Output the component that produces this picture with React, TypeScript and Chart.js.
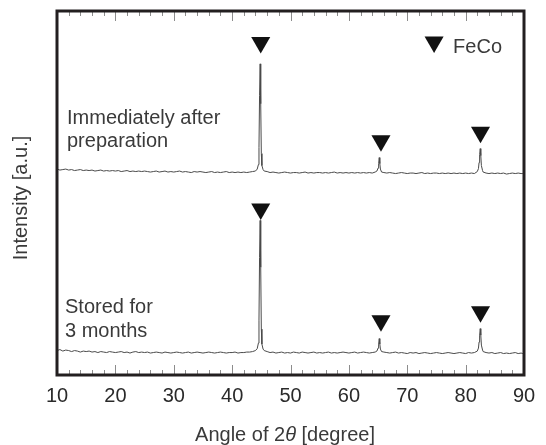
import React, { useEffect, useRef } from "react";
import { Chart, registerables } from "chart.js";

Chart.register(...registerables);

// 2θ sample positions (degree)
const angles = [
  10, 10.5, 11, 11.5, 12, 12.5, 13, 13.5, 14, 14.5,
  15, 15.5, 16, 16.5, 17, 17.5, 18, 18.5, 19, 19.5,
  20, 20.5, 21, 21.5, 22, 22.5, 23, 23.5, 24, 24.5,
  25, 25.5, 26, 26.5, 27, 27.5, 28, 28.5, 29, 29.5,
  30, 30.5, 31, 31.5, 32, 32.5, 33, 33.5, 34, 34.5,
  35, 35.5, 36, 36.5, 37, 37.5, 38, 38.5, 39, 39.5,
  40, 40.5, 41, 41.5, 42, 42.5, 43, 43.5,
  44.0, 44.3, 44.5, 44.6, 44.7, 44.8, 44.9, 45.0, 45.1, 45.3, 45.5,
  46, 46.5, 47, 47.5, 48, 48.5, 49, 49.5, 50, 50.5,
  51, 51.5, 52, 52.5, 53, 53.5, 54, 54.5, 55, 55.5,
  56, 56.5, 57, 57.5, 58, 58.5, 59, 59.5, 60, 60.5,
  61, 61.5, 62, 62.5, 63, 63.5, 64, 64.5,
  64.8, 65.0, 65.1, 65.2, 65.3, 65.4, 65.6,
  66, 66.5, 67, 67.5, 68, 68.5, 69, 69.5, 70, 70.5,
  71, 71.5, 72, 72.5, 73, 73.5, 74, 74.5, 75, 75.5,
  76, 76.5, 77, 77.5, 78, 78.5, 79, 79.5, 80, 80.5,
  81, 81.5, 82,
  82.2, 82.3, 82.4, 82.5, 82.6, 82.7, 82.9,
  83, 83.5, 84, 84.5, 85, 85.5, 86, 86.5, 87, 87.5, 88, 88.5, 89, 89.5, 89.8,
];

// Immediately after preparation (a.u., before vertical offset)
const freshIntensity = [
  26.5, 25.5, 26, 26.5, 25.5, 26, 25, 25.5, 26, 25,
  25.5, 25, 25.5, 24.5, 25, 25.5, 24.5, 25, 24.5, 25,
  24.5, 25, 24, 24.5, 25, 24, 24.5, 24, 24.5, 24,
  24.5, 24, 23.5, 24, 24.5, 23.5, 24, 24.5, 23.5, 24,
  23.5, 24, 24.5, 23.5, 24, 23.5, 23, 24, 23.5, 24,
  23.5, 23, 23.5, 24, 23, 23.5, 23, 23.5, 24, 23,
  23.5, 23, 23.5, 23, 23.5, 23, 23.5, 24,
  24.5, 26.5, 31, 48, 100, 132, 92, 42, 30, 26, 24.5,
  24, 23, 23.5, 23, 22.5, 23, 23.5, 23, 22.5, 23,
  23, 22.5, 23, 23.5, 22.5, 23, 22.5, 23, 23, 22.5,
  23, 22.5, 23, 23.5, 22.5, 23, 22.5, 23, 22.5, 23,
  22.5, 23, 22.5, 23, 22.5, 23, 22.5, 23.5,
  24.5, 27.5, 32, 38, 32, 26.5, 23.5,
  23, 22.5, 23, 22.5, 22, 22.5, 23, 22.5, 22, 22.5,
  22.5, 22, 22.5, 23, 22, 22.5, 22, 22.5, 22.5, 22,
  22.5, 22, 22.5, 22, 22.5, 22, 22.5, 22, 22.5, 22,
  22.5, 22, 24,
  27, 33, 41, 47, 40, 30, 25,
  23.5, 22.5, 22, 22.5, 22, 22.5, 22, 22.5, 21.5, 22, 22.5, 22, 22.5, 22, 22,
];

// Stored for 3 months (a.u.)
const storedIntensity = [
  24.5, 25.5, 24, 25, 24.5, 23.5, 24.5, 24, 23, 24,
  23.5, 24, 23, 23.5, 22.5, 23.5, 23, 22.5, 23.5, 23,
  22.5, 23, 23.5, 22.5, 23, 22, 23, 23.5, 22.5, 23,
  22.5, 23, 22, 22.5, 23, 22.5, 22, 23, 22.5, 22,
  22.5, 23, 22.5, 22, 22.5, 23, 22, 22.5, 23, 22.5,
  22, 22.5, 23, 22.5, 22, 22.5, 23, 22.5, 22, 22.5,
  22.5, 23, 22, 22.5, 22.5, 23, 23, 23.5,
  24.5, 26.5, 32, 55, 118, 155, 108, 46, 31, 26, 24.5,
  23.5, 22.5, 23, 22, 22.5, 23, 22, 22.5, 22, 23,
  22.5, 22, 23, 22.5, 22, 22.5, 23, 22, 22.5, 22,
  22.5, 23, 22, 22.5, 22, 22.5, 23, 22.5, 22, 22.5,
  23, 22, 22.5, 23, 22.5, 22, 22.5, 23,
  24, 27, 31, 36.5, 31, 26, 23.5,
  23, 22.5, 22, 22.5, 23, 22, 22.5, 22, 21.5, 22.5,
  22, 22.5, 21.5, 22, 22.5, 22, 21.5, 22, 22.5, 22,
  21.5, 22, 22.5, 22, 21.5, 22, 22.5, 22, 21.5, 22.5,
  22, 22.5, 24,
  27, 33, 40, 46.5, 40, 30, 25,
  23.5, 22.5, 22, 22.5, 21.5, 22, 22.5, 21.5, 22, 21.5, 22, 22.5, 21.5, 22, 21.5,
];

const freshOffset = 180;
const yMax = 365;

// FeCo reflection markers
const markerAngles = [44.9, 65.5, 82.55];
const freshMarkerLevels = [153.5, 55, 63.5];
const storedMarkerLevels = [166.5, 54.5, 63.5];
const legendMarkerAngle = 74.6;
const legendMarkerLevel = 334;
const legendText = "FeCo";

const xTickValues = [10, 20, 30, 40, 50, 60, 70, 80, 90];
const minorTickStep = 2;
const freshLabel = ["Immediately after", "preparation"];
const storedLabel = ["Stored for", "3 months"];

const FONT = '"Liberation Sans", Arial, Helvetica, sans-serif';
const TEXT_COLOR = "#3a3a3a";

const decorPlugin = {
  id: "decor",
  afterDatasetsDraw(chart: any) {
    const { ctx, chartArea: a, scales } = chart;
    const x = scales.x;
    ctx.save();
    // inward ticks on top and bottom
    ctx.strokeStyle = "#8c8c8c";
    ctx.lineWidth = 1;
    for (let v = x.min; v <= x.max + 1e-6; v += minorTickStep) {
      const px = Math.round(x.getPixelForValue(v)) + 0.5;
      const major = xTickValues.includes(Math.round(v));
      const len = major ? 10 : 5;
      ctx.beginPath();
      ctx.moveTo(px, a.bottom);
      ctx.lineTo(px, a.bottom - len);
      ctx.moveTo(px, a.top);
      ctx.lineTo(px, a.top + len);
      ctx.stroke();
    }
    // frame
    ctx.strokeStyle = "#231f20";
    ctx.lineWidth = 3;
    ctx.strokeRect(a.left, a.top, a.right - a.left, a.bottom - a.top);

    // annotations
    ctx.fillStyle = TEXT_COLOR;
    ctx.font = `20px ${FONT}`;
    ctx.textAlign = "left";
    ctx.textBaseline = "alphabetic";
    ctx.fillText(freshLabel[0], a.left + 10, 124);
    ctx.fillText(freshLabel[1], a.left + 10, 147);
    ctx.fillText(storedLabel[0], a.left + 8, 313);
    ctx.fillText(storedLabel[1], a.left + 8, 337);
    ctx.fillText(legendText, x.getPixelForValue(legendMarkerAngle) + 19, 53);

    // x axis title with italic theta
    const parts = [
      { t: "Angle of 2", f: `20px ${FONT}` },
      { t: "θ", f: `italic 20px ${FONT}` },
      { t: " [degree]", f: `20px ${FONT}` },
    ];
    let total = 0;
    for (const p of parts) {
      ctx.font = p.f;
      total += ctx.measureText(p.t).width;
    }
    let cx = 285 - total / 2;
    for (const p of parts) {
      ctx.font = p.f;
      ctx.fillText(p.t, cx, 441);
      cx += ctx.measureText(p.t).width;
    }

    // y axis title
    ctx.save();
    ctx.translate(27, 198);
    ctx.rotate(-Math.PI / 2);
    ctx.font = `20px ${FONT}`;
    ctx.textAlign = "center";
    ctx.fillText("Intensity [a.u.]", 0, 0);
    ctx.restore();

    ctx.restore();
  },
};

export default function App() {
  const ref = useRef<HTMLCanvasElement | null>(null);

  useEffect(() => {
    if (!ref.current) return;
    const fresh = angles.map((a, i) => ({ x: a, y: freshIntensity[i] + freshOffset }));
    const stored = angles.map((a, i) => ({ x: a, y: storedIntensity[i] }));
    const markers = [
      ...markerAngles.map((a, i) => ({ x: a, y: freshMarkerLevels[i] + freshOffset })),
      ...markerAngles.map((a, i) => ({ x: a, y: storedMarkerLevels[i] })),
      { x: legendMarkerAngle, y: legendMarkerLevel },
    ];
    const chart = new Chart(ref.current, {
      type: "scatter",
      data: {
        datasets: [
          {
            data: fresh,
            showLine: true,
            borderColor: "#4a4a4a",
            borderWidth: 1,
            pointRadius: 0,
            tension: 0,
          },
          {
            data: stored,
            showLine: true,
            borderColor: "#4a4a4a",
            borderWidth: 1,
            pointRadius: 0,
            tension: 0,
          },
          {
            data: markers,
            showLine: false,
            pointStyle: "triangle",
            rotation: 180,
            pointRadius: 11,
            pointBackgroundColor: "#111111",
            pointBorderWidth: 0,
            borderWidth: 0,
          },
        ],
      },
      options: {
        animation: false,
        responsive: false,
        events: [],
        layout: { padding: { left: 57, right: 22, top: 10, bottom: 0 } },
        plugins: { legend: { display: false }, tooltip: { enabled: false } },
        scales: {
          x: {
            type: "linear",
            min: 10,
            max: 90,
            afterFit: (s: any) => {
              s.height = 70;
            },
            grid: { display: false, drawTicks: false },
            border: { display: false },
            ticks: {
              stepSize: 10,
              padding: 9,
              color: "#2a2a2a",
              font: { family: FONT, size: 20 },
            },
          },
          y: {
            type: "linear",
            display: false,
            min: 0,
            max: yMax,
          },
        },
      },
      plugins: [decorPlugin],
    });
    return () => chart.destroy();
  }, []);

  return (
    <div style={{ position: "absolute", left: 0, top: 0, width: 546, height: 445, background: "#fff" }}>
      <canvas ref={ref} width={546} height={445} style={{ display: "block" }} />
    </div>
  );
}
